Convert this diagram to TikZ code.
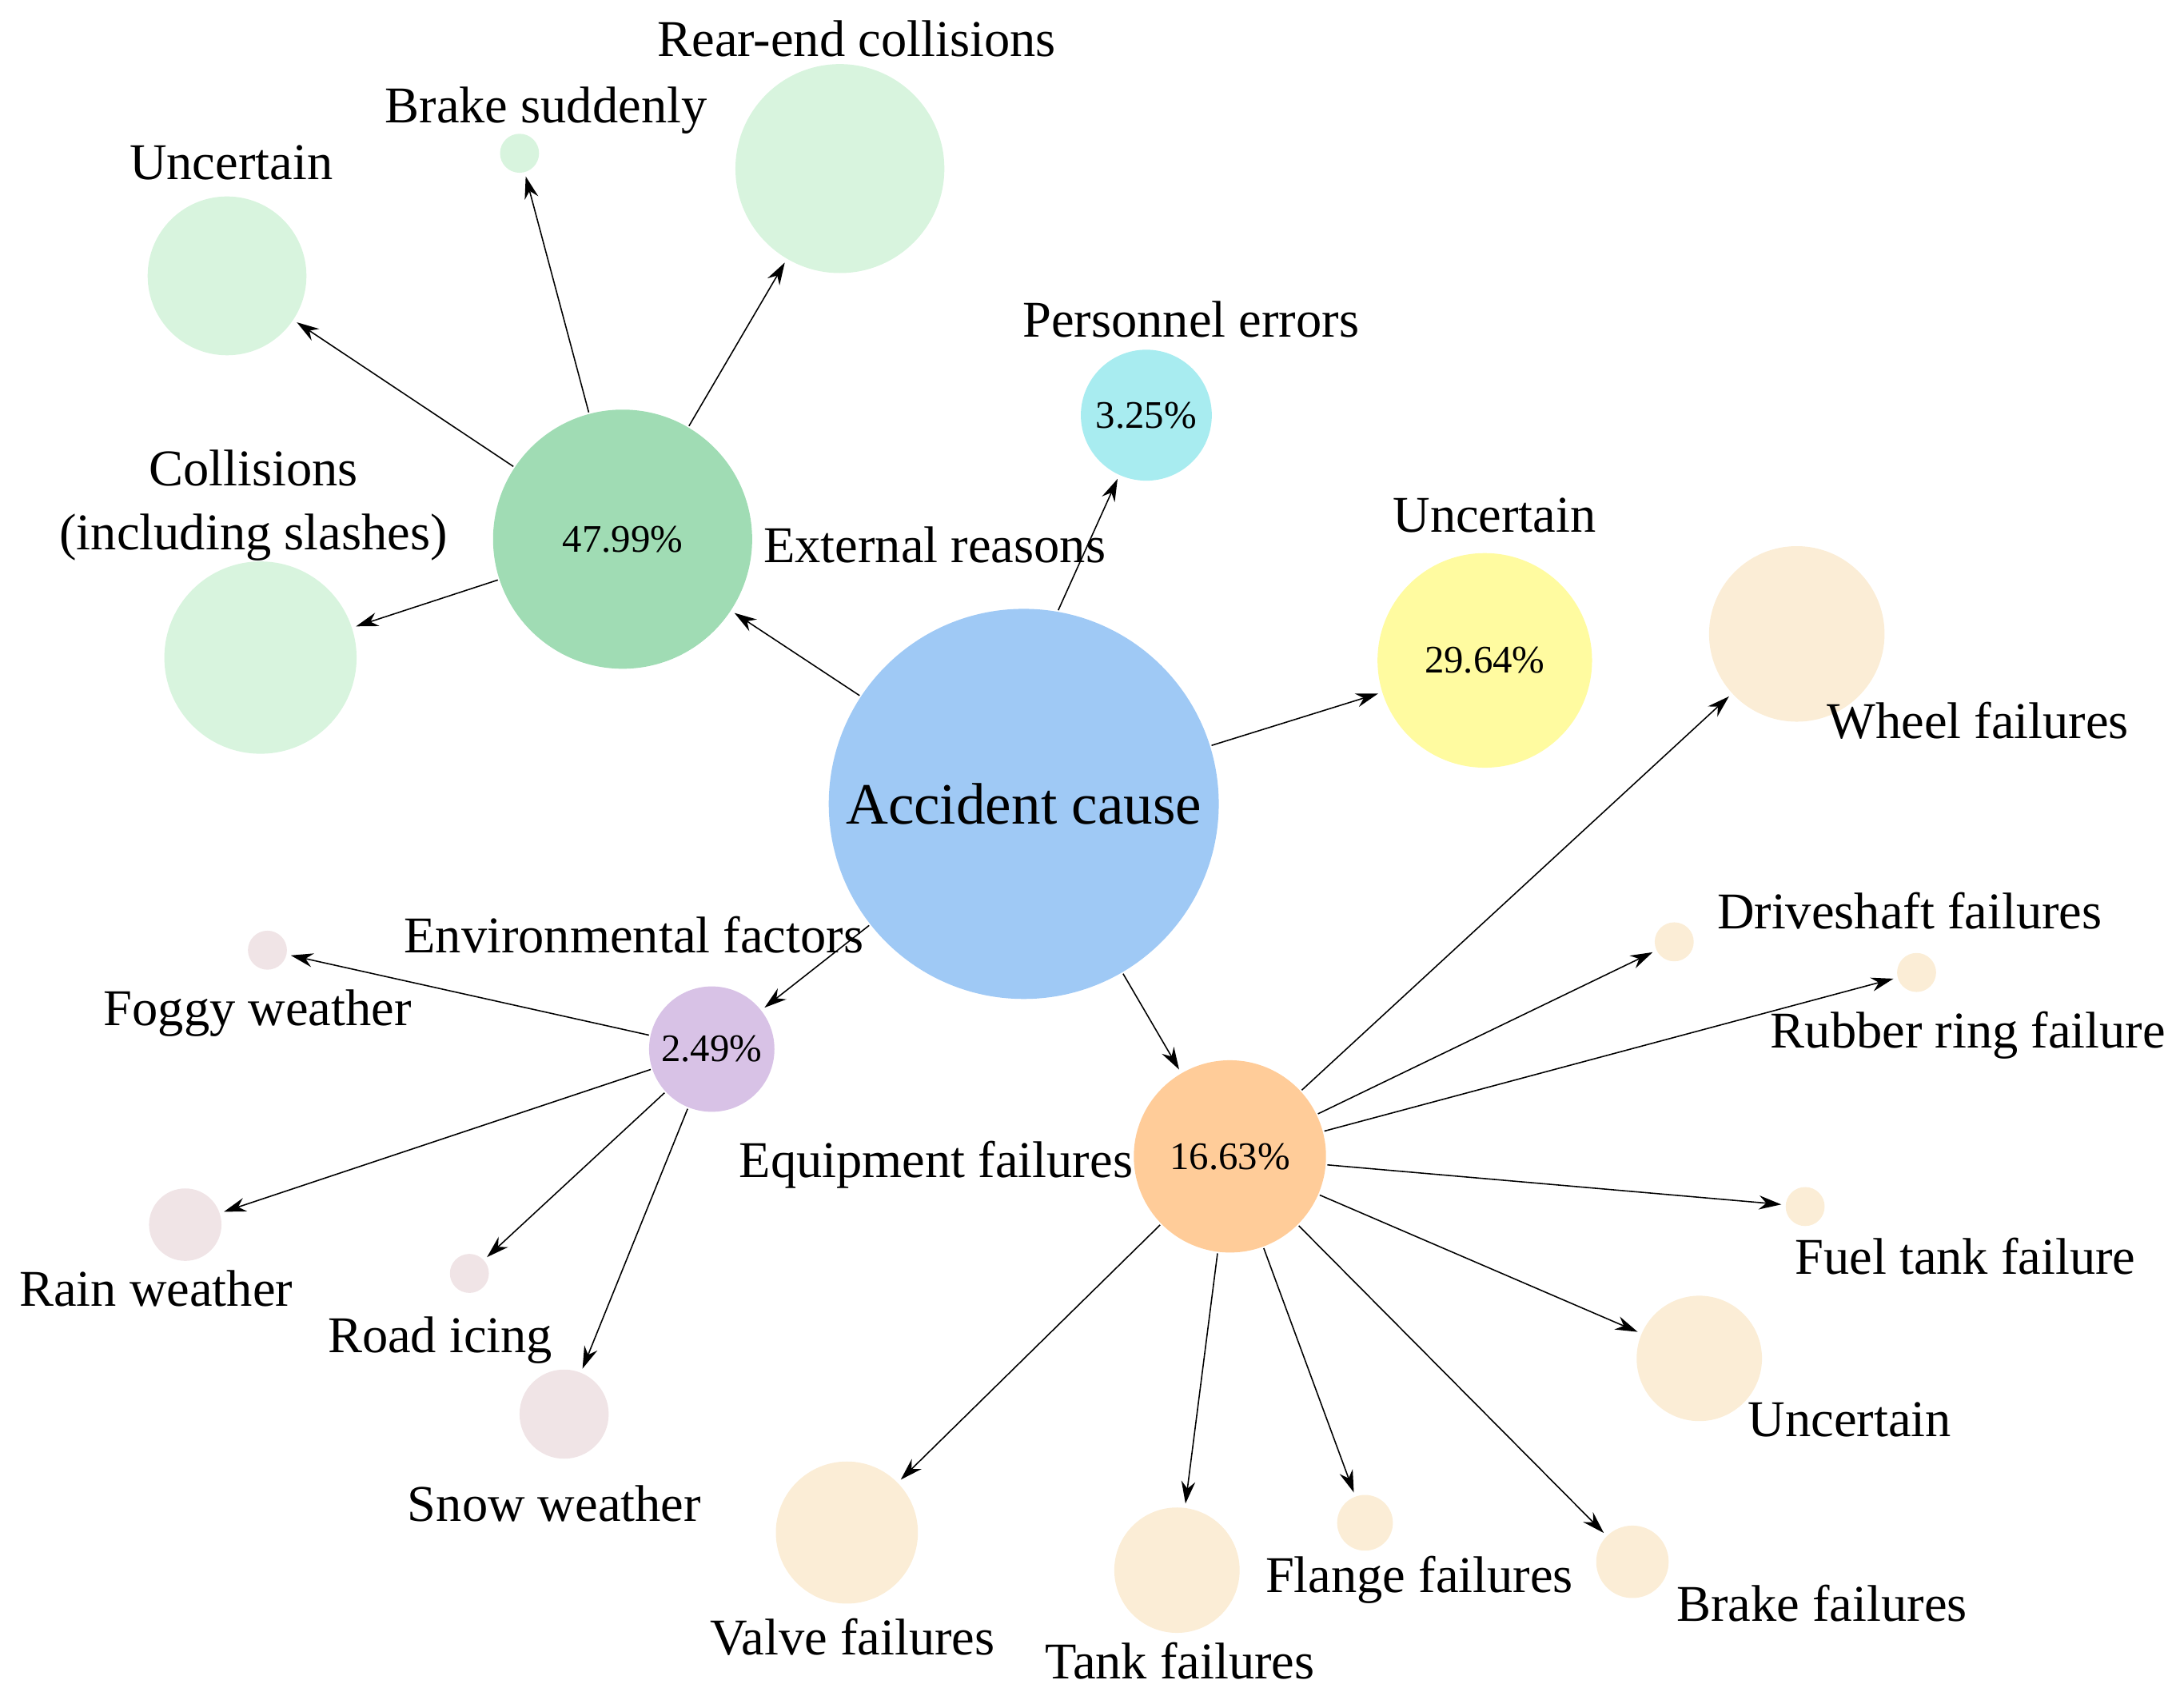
\documentclass[tikz,border=0pt]{standalone}
\usepackage{fontspec}
\setmainfont{Liberation Serif}
\usetikzlibrary{arrows.meta}
\definecolor{cMain}{HTML}{9FC9F5}
\definecolor{cExt}{HTML}{A0DCB4}
\definecolor{cExtL}{HTML}{D8F4DE}
\definecolor{cPer}{HTML}{A8ECF0}
\definecolor{cUnc}{HTML}{FFFBA0}
\definecolor{cEq}{HTML}{FFCC99}
\definecolor{cEqL}{HTML}{FBEDD6}
\definecolor{cEnv}{HTML}{D8C2E6}
\definecolor{cEnvL}{HTML}{F0E4E6}
\tikzset{
 bub/.style={circle,inner sep=0pt,minimum size=#1},
 lab/.style={font=\fontsize{37}{44}\selectfont,align=center},
 pct/.style={font=\fontsize{28}{32}\selectfont},
 arr/.style={-{Stealth[length=16pt,width=10pt]},line width=0.9pt,shorten >=3pt,shorten <=1pt}
}
\begin{document}
\begin{tikzpicture}[x=1pt,y=-1pt]
\useasboundingbox (0,0) rectangle (1568,1220);
% bubbles
\node[bub=280,fill=cMain,font=\fontsize{42}{48}\selectfont] (ac) at (735,577) {Accident cause};
\node[bub=186,fill=cExt,pct] (ext) at (447,387) {47.99\%};
\node[bub=114,fill=cExtL] (u1) at (163,198) {};
\node[bub=28,fill=cExtL] (bs) at (373,110) {};
\node[bub=150,fill=cExtL] (re) at (603,121) {};
\node[bub=138,fill=cExtL] (col) at (187,472) {};
\node[bub=94,fill=cPer,pct] (per) at (823,298) {3.25\%};
\node[bub=154,fill=cUnc,pct] (unc) at (1066,474) {29.64\%};
\node[bub=138,fill=cEq,pct] (eq) at (883,830) {16.63\%};
\node[bub=126,fill=cEqL] (wh) at (1290,455) {};
\node[bub=28,fill=cEqL] (ds) at (1202,676) {};
\node[bub=28,fill=cEqL] (rr) at (1376,698) {};
\node[bub=28,fill=cEqL] (ft) at (1296,866) {};
\node[bub=90,fill=cEqL] (u2) at (1220,975) {};
\node[bub=52,fill=cEqL] (bf) at (1172,1121) {};
\node[bub=40,fill=cEqL] (fl) at (980,1093) {};
\node[bub=90,fill=cEqL] (tk) at (845,1127) {};
\node[bub=102,fill=cEqL] (vf) at (608,1100) {};
\node[bub=90,fill=cEnv,pct] (env) at (511,753) {2.49\%};
\node[bub=28,fill=cEnvL] (fog) at (192,682) {};
\node[bub=52,fill=cEnvL] (rain) at (133,879) {};
\node[bub=28,fill=cEnvL] (ice) at (337,914) {};
\node[bub=64,fill=cEnvL] (snow) at (405,1015) {};
% labels
\node[lab] (l1) at (615,28) {Rear-end collisions};
\node[lab] (l2) at (392,79) {Brake suddenly};
\node[lab] (l3) at (166,117) {Uncertain};
\node[lab,font=\fontsize{37}{46}\selectfont] (l4) at (182,363) {Collisions\\(including slashes)};
\node[lab] (l5) at (671,391) {External reasons};
\node[lab] (l6) at (855,229) {Personnel errors};
\node[lab] (l7) at (1073,370) {Uncertain};
\node[lab] (l8) at (1420,517) {Wheel failures};
\node[lab] (l9) at (1371,654) {Driveshaft failures};
\node[lab] (l10) at (1413,743) {Rubber ring failure};
\node[lab] (l11) at (455,671) {Environmental factors};
\node[lab] (l12) at (185,727) {Foggy weather};
\node[lab] (l13) at (672,836) {Equipment failures};
\node[lab] (l14) at (1411,902) {Fuel tank failure};
\node[lab] (l15) at (112,925) {Rain weather};
\node[lab] (l16) at (316,962) {Road icing};
\node[lab] (l17) at (1328,1019) {Uncertain};
\node[lab] (l18) at (398,1079) {Snow weather};
\node[lab] (l19) at (1019,1134) {Flange failures};
\node[lab] (l20) at (1308,1151) {Brake failures};
\node[lab] (l21) at (612,1175) {Valve failures};
\node[lab] (l22) at (847,1192) {Tank failures};
% arrows
\draw[arr] (ac) -- (ext);
\draw[arr] (ac.80) -- (per);
\draw[arr] (ac) -- (unc);
\draw[arr] (ac) -- (eq);
\draw[arr] (ac) -- (env);
\foreach \t in {u1,bs,re,col} \draw[arr] (ext) -- (\t);
\foreach \t in {wh,ds,rr,ft,u2,bf,fl,tk,vf} \draw[arr] (eq) -- (\t);
\foreach \t in {fog,rain,ice,snow} \draw[arr] (env) -- (\t);
\end{tikzpicture}
\end{document}
